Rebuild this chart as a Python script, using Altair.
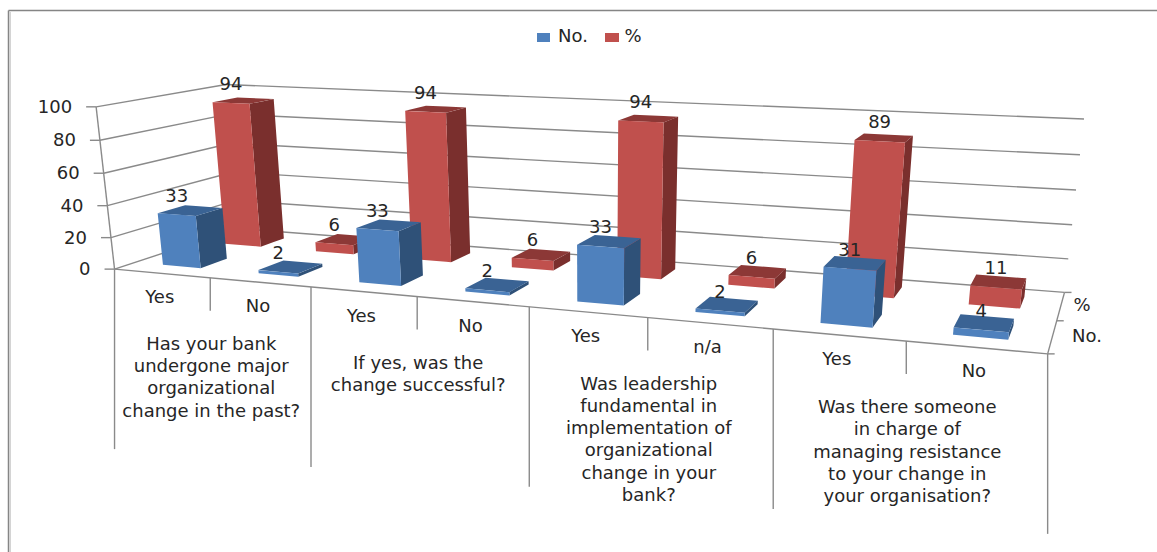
import altair as alt
import numpy as np
import pandas as pd

# Survey answers, two series per answer slot
answers = ["Yes", "No", "Yes", "No", "Yes", "n/a", "Yes", "No"]
count_values = [33, 2, 33, 2, 33, 2, 31, 4]
percent_values = [94, 6, 94, 6, 94, 6, 89, 11]
questions = [
    ["Has your bank", "undergone major", "organizational", "change in the past?"],
    ["If yes, was the", "change successful?"],
    ["Was leadership", "fundamental in", "implementation of", "organizational", "change in your", "bank?"],
    ["Was there someone", "in charge of", "managing resistance", "to your change in", "your organisation?"],
]
value_ticks = [0, 20, 40, 60, 80, 100]
series_names = ["No.", "%"]

W, H = 1157, 552
FONT = "DejaVu Sans"
TEXT = "#262626"
AXIS = "#8a8a8a"

# Camera: (slot, depth, value) -> page position, solved from known frame points
frame_points = [
    (0, 0, 0, 115, 268), (1, 0, 0, 210, 279), (2, 0, 0, 311, 287), (3, 0, 0, 417, 297),
    (4, 0, 0, 529, 307), (5, 0, 0, 648, 318), (6, 0, 0, 774, 329), (7, 0, 0, 906, 342),
    (8, 0, 0, 1047, 354),
    (0, 0, 20, 111, 237), (0, 0, 40, 107, 205), (0, 0, 60, 104, 173), (0, 0, 80, 100, 140),
    (0, 0, 100, 96, 107),
    (8, 1, 0, 1064, 292), (8, 1, 20, 1069, 258), (8, 1, 40, 1072, 225), (8, 1, 60, 1076, 190),
    (8, 1, 80, 1080, 155), (8, 1, 100, 1084, 119),
    (0, 1, 0, 238, 229), (0, 1, 100, 226, 85), (8, 0.5, 0, 1057, 320),
]
A, b = [], []
for u, v, w, px, py in frame_points:
    g = [u, v, w / 100, 1]
    A.append(g + [0, 0, 0, 0] + [-px * t for t in g[:3]])
    b.append(px)
    A.append([0, 0, 0, 0] + g + [-py * t for t in g[:3]])
    b.append(py)
cam = np.append(np.linalg.lstsq(np.array(A, float), np.array(b, float), rcond=None)[0], 1.0).reshape(3, 4)


def project(u, v, w):
    q = cam @ np.array([u, v, w / 100, 1.0])
    return float(q[0] / q[2]), float(q[1] / q[2])


def envelope_rows(points, face, color):
    """Turn a convex polygon into x / y / y2 rows an area mark can fill."""
    n = len(points)
    rows = []
    for x in sorted({p[0] for p in points}):
        hits = []
        for i in range(n):
            (x0, y0), (x1, y1) = points[i], points[(i + 1) % n]
            if min(x0, x1) <= x <= max(x0, x1):
                if x0 == x1:
                    hits += [y0, y1]
                else:
                    hits.append(y0 + (y1 - y0) * (x - x0) / (x1 - x0))
        rows.append({"x": x, "y": min(hits), "y2": max(hits), "face": face, "fill": color})
    return rows


BAR_HALF = 0.2
DEPTHS = {"No.": (0.15, 0.36), "%": (0.65, 0.86)}
COLORS = {
    "No.": {"front": "#4F81BD", "side": "#2F5178", "top": "#3A6394"},
    "%": {"front": "#C0504D", "side": "#7A2F2D", "top": "#8C3836"},
}

bar_rows, label_rows = [], []
for name, values in (("%", percent_values), ("No.", count_values)):
    v0, v1 = DEPTHS[name]
    for i, val in enumerate(values):
        u0, u1 = i + 0.5 - BAR_HALF, i + 0.5 + BAR_HALF
        front = [project(u0, v0, val), project(u1, v0, val), project(u1, v0, 0), project(u0, v0, 0)]
        side = [project(u1, v0, val), project(u1, v1, val), project(u1, v1, 0), project(u1, v0, 0)]
        top = [project(u0, v0, val), project(u0, v1, val), project(u1, v1, val), project(u1, v0, val)]
        shade = COLORS[name]
        bar_rows += envelope_rows(side, f"{name}-{i}-side", shade["side"])
        bar_rows += envelope_rows(top, f"{name}-{i}-top", shade["top"])
        bar_rows += envelope_rows(front, f"{name}-{i}-front", shade["front"])
        lx, ly = project(i + 0.5, v0, val)
        label_rows.append({"x": lx, "y": ly - 18, "text": str(val)})

rule_rows = []


def add_rule(a, b):
    rule_rows.append({"x": a[0], "y": a[1], "x2": b[0], "y2": b[1]})


for w in value_ticks:
    fl, bl, br = project(0, 0, w), project(0, 1, w), project(8, 1, w)
    add_rule(fl, bl)
    add_rule(bl, br)
    add_rule((fl[0] - 10, fl[1]), fl)
add_rule(project(0, 0, 0), project(0, 0, 100))
add_rule(project(0, 0, 0), project(8, 0, 0))
add_rule(project(8, 0, 0), project(8, 1, 0))
for d in (0, 0.5, 1):
    p = project(8, d, 0)
    add_rule(p, (p[0] + 7, p[1]))
for u in range(9):
    p = project(u, 0, 0)
    drop = 180 if u % 2 == 0 else 33
    add_rule(p, (p[0], p[1] + drop))

# Chart frame: top and left edges only
frame_rows = [{"x": 8.5, "y": 10.5, "x2": 1157, "y2": 10.5}, {"x": 8.5, "y": 10.5, "x2": 8.5, "y2": 552}]
frame_soft = [{"x": 10, "y": 12, "x2": 10, "y2": 552}]

tick_rows = []
for w in value_ticks:
    p = project(0, 0, w)
    tick_rows.append({"x": p[0] - 24, "y": p[1] + 1, "text": str(w)})

answer_rows = []
for i, a in enumerate(answers):
    p = project(i + 0.5, 0, 0)
    answer_rows.append({"x": p[0] - 2, "y": p[1] + 25, "text": a})

question_rows = []
for g, lines in enumerate(questions):
    p = project(2 * g + 1, 0, 0)
    for k, line in enumerate(lines):
        question_rows.append({"x": p[0] + 1, "y": p[1] + 67 + 22.3 * k, "text": line})

depth_rows = [{"x": 1082, "y": 306, "text": series_names[1]}, {"x": 1087, "y": 337, "text": series_names[0]}]
legend_text = [{"x": 573, "y": 37, "text": series_names[0]}, {"x": 633, "y": 37, "text": series_names[1]}]
legend_boxes = [
    {"x": 537, "x2": 550, "y": 33, "y2": 42, "fill": COLORS["No."]["front"]},
    {"x": 605, "x2": 619, "y": 33, "y2": 42, "fill": COLORS["%"]["front"]},
]

xs = alt.Scale(domain=[0, W], range=[0, W], nice=False, zero=False)
ys = alt.Scale(domain=[0, H], range=[0, H], nice=False, zero=False)
X = alt.X("x:Q", scale=xs, axis=None)
Y = alt.Y("y:Q", scale=ys, axis=None)
X2 = alt.X2("x2:Q")
Y2 = alt.Y2("y2:Q")


def rules(rows, color, width):
    return alt.Chart(pd.DataFrame(rows)).mark_rule(color=color, strokeWidth=width).encode(x=X, y=Y, x2=X2, y2=Y2)


def labels(rows, align="center", size=18):
    return alt.Chart(pd.DataFrame(rows)).mark_text(
        font=FONT, fontSize=size, color=TEXT, align=align, baseline="middle"
    ).encode(x=X, y=Y, text="text:N")


bars = alt.Chart(pd.DataFrame(bar_rows)).mark_area(interpolate="linear").encode(
    x=X, y=Y, y2=Y2,
    detail="face:N",
    color=alt.Color("fill:N", scale=None),
)
legend_marks = alt.Chart(pd.DataFrame(legend_boxes)).mark_rect().encode(
    x=X, y=Y, x2=X2, y2=Y2, color=alt.Color("fill:N", scale=None)
)

chart = alt.layer(
    rules(frame_rows, "#858585", 1.5),
    rules(frame_soft, "#d4d4d4", 2),
    rules(rule_rows, AXIS, 1.4),
    bars,
    labels(label_rows),
    labels(tick_rows, align="right"),
    labels(answer_rows),
    labels(question_rows),
    labels(depth_rows),
    labels(legend_text),
    legend_marks,
).properties(
    width=W, height=H, padding=0, autosize=alt.AutoSizeParams(type="none"), background="white"
).configure_view(stroke=None)

chart.save("out.html", embed_options={"renderer": "svg", "actions": False})
